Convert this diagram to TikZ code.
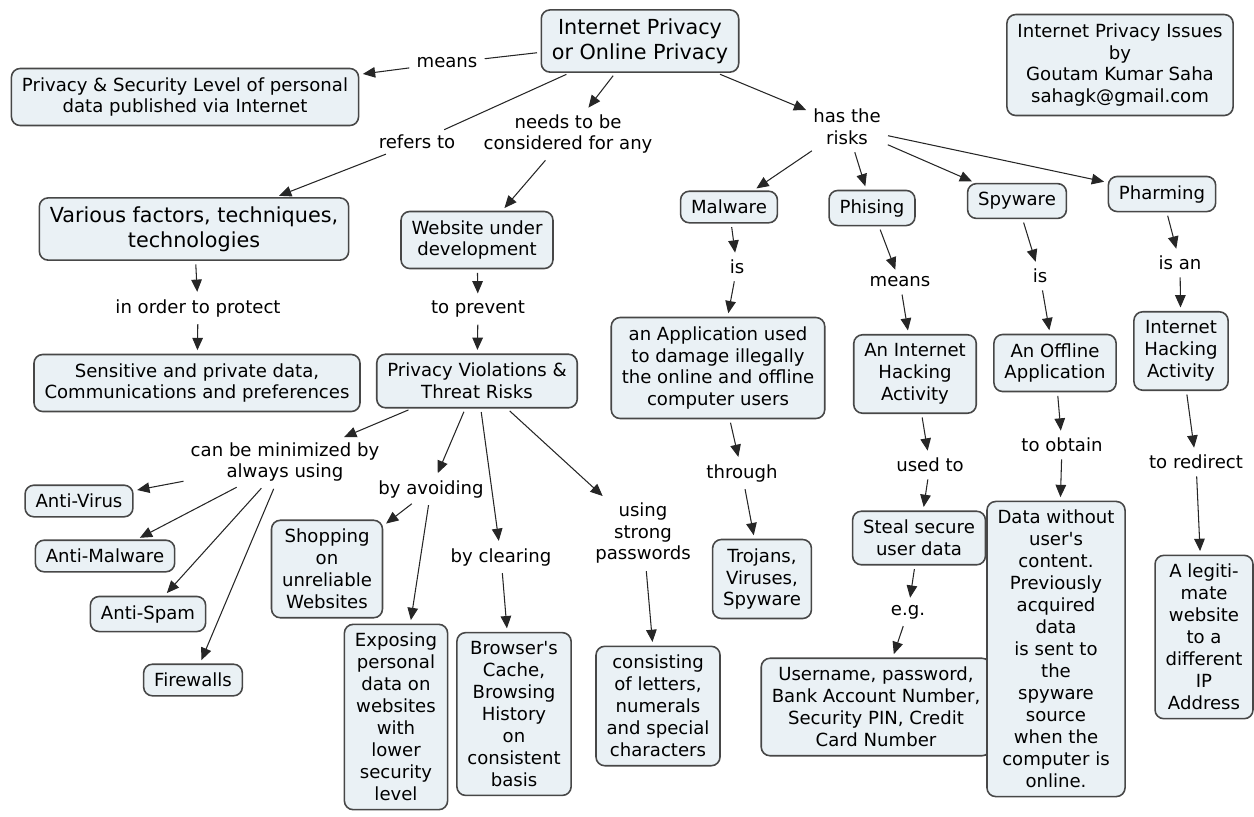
\documentclass[tikz,border=0pt]{standalone}
\usepackage{fontspec}
\setmainfont{DejaVu Sans}
\usetikzlibrary{arrows.meta}
\definecolor{cfill}{HTML}{EAF1F5}
\definecolor{cline}{HTML}{474747}
\tikzset{
  concept/.style={draw=cline, fill=cfill, rounded corners=5pt, line width=0.9pt,
    align=center, inner xsep=6pt, inner ysep=5pt, font=\fontsize{10.3}{12.5}\selectfont},
  bigconcept/.style={concept, font=\fontsize{11.8}{14}\selectfont},
  phrase/.style={align=center, inner sep=2pt, font=\fontsize{10.3}{12.5}\selectfont},
  link/.style={draw=black!85, line width=0.6pt, -{Triangle[length=7pt,width=6pt]},
    shorten >=2pt, shorten <=2pt},
  nohead/.style={link, -}
}
\begin{document}
\begin{tikzpicture}[x=0.02cm,y=-0.02cm]
\useasboundingbox (0,0) rectangle (1254,816);

% concepts
\node[bigconcept] (root) at (640,41) {Internet Privacy\\or Online Privacy};
\node[concept] (title) at (1120,65) {Internet Privacy Issues\\by\\Goutam Kumar Saha\\sahagk@gmail.com};
\node[concept] (privacy) at (185,97) {Privacy \& Security Level of personal\\data published via Internet};
\node[bigconcept] (factors) at (194,229) {Various factors, techniques,\\technologies};
\node[concept] (website) at (477,240) {Website under\\development};
\node[concept] (malware) at (729,207) {Malware};
\node[concept] (phising) at (872,208) {Phising};
\node[concept] (spyware) at (1017,201) {Spyware};
\node[concept] (pharming) at (1162,194) {Pharming};
\node[concept] (sensitive) at (197,383) {Sensitive and private data,\\Communications and preferences};
\node[concept] (violations) at (477,381) {Privacy Violations \&\\Threat Risks};
\node[concept] (application) at (718,368) {an Application used\\to damage illegally\\the online and offline\\computer users};
\node[concept] (hacking) at (915,374) {An Internet\\Hacking\\Activity};
\node[concept] (offline) at (1055,363) {An Offline\\Application};
\node[concept] (pharmhack) at (1181,351) {Internet\\Hacking\\Activity};
\node[concept] (antivirus) at (79,501) {Anti-Virus};
\node[concept] (antimalware) at (105,556) {Anti-Malware};
\node[concept] (antispam) at (148,614) {Anti-Spam};
\node[concept] (firewalls) at (193,680) {Firewalls};
\node[concept] (shopping) at (327,569) {Shopping\\on\\unreliable\\Websites};
\node[concept] (exposing) at (396,717) {Exposing\\personal\\data on\\websites\\with\\lower\\security\\level};
\node[concept] (browser) at (514,714) {Browser\textquotesingle s\\Cache,\\Browsing\\History\\on\\consistent\\basis};
\node[concept] (consisting) at (658,706) {consisting\\of letters,\\numerals\\and special\\characters};
\node[concept] (trojans) at (762,579) {Trojans,\\Viruses,\\Spyware};
\node[concept] (steal) at (919,538) {Steal secure\\user data};
\node[concept] (username) at (876,707) {Username, password,\\Bank Account Number,\\Security PIN, Credit\\Card Number};
\node[concept] (obtained) at (1056,649) {Data without\\user\textquotesingle s\\content.\\Previously\\acquired\\data\\is sent to\\the\\spyware\\source\\when the\\computer is\\online.};
\node[concept] (legit) at (1204,637) {A legiti-\\mate\\website\\to a\\different\\IP\\Address};

% linking phrases
\node[phrase] (means) at (447,63) {means};
\node[phrase] (refers) at (417,142) {refers to};
\node[phrase] (needs) at (568,134) {needs to be\\considered for any};
\node[phrase] (risks) at (847,127) {has the\\risks};
\node[phrase] (protect) at (198,308) {in order to protect};
\node[phrase] (prevent) at (478,309) {to prevent};
\node[phrase] (mal-is) at (737,267) {is};
\node[phrase] (phis-means) at (900,282) {means};
\node[phrase] (spy-is) at (1040,276) {is};
\node[phrase] (pharm-is) at (1180,263) {is an};
\node[phrase] (minimized) at (285,462) {can be minimized by\\always using};
\node[phrase] (avoiding) at (431,489) {by avoiding};
\node[phrase] (clearing) at (501,557) {by clearing};
\node[phrase] (strong) at (643,533) {using\\strong\\passwords};
\node[phrase] (through) at (742,473) {through};
\node[phrase] (usedto) at (930,465) {used to};
\node[phrase] (obtain) at (1062,445) {to obtain};
\node[phrase] (redirect) at (1196,462) {to redirect};
\node[phrase] (eg) at (908,612) {e.g.};

% links
\draw[nohead] (root) -- (means);
\draw[link] (means) -- (privacy);
\draw[nohead] (root) -- (refers);
\draw[link] (refers) -- (factors);
\draw[link] (root) -- (needs);
\draw[link] (needs) -- (website);
\draw[link] (root) -- (risks);
\foreach \risk in {malware,phising,spyware,pharming}
  \draw[link] (risks) -- (\risk);
\draw[link] (factors) -- (protect);
\draw[link] (protect) -- (sensitive);
\draw[link] (website) -- (prevent);
\draw[link] (prevent) -- (violations);
\draw[link] (violations) -- (minimized);
\foreach \tool in {antivirus,antimalware,antispam,firewalls}
  \draw[link] (minimized) -- (\tool);
\draw[link] (violations) -- (avoiding);
\draw[link] (avoiding) -- (shopping);
\draw[link] (avoiding) -- (exposing);
\draw[link] (violations) -- (clearing);
\draw[link] (clearing) -- (browser);
\draw[link] (violations) -- (strong);
\draw[link] (strong) -- (consisting);
\draw[link] (malware) -- (mal-is);
\draw[link] (mal-is) -- (application);
\draw[link] (application) -- (through);
\draw[link] (through) -- (trojans);
\draw[link] (phising) -- (phis-means);
\draw[link] (phis-means) -- (hacking);
\draw[link] (hacking) -- (usedto);
\draw[link] (usedto) -- (steal);
\draw[link] (steal) -- (eg);
\draw[link] (eg) -- (username);
\draw[link] (spyware) -- (spy-is);
\draw[link] (spy-is) -- (offline);
\draw[link] (offline) -- (obtain);
\draw[link] (obtain) -- (obtained);
\draw[link] (pharming) -- (pharm-is);
\draw[link] (pharm-is) -- (pharmhack);
\draw[link] (pharmhack) -- (redirect);
\draw[link] (redirect) -- (legit);
\end{tikzpicture}
\end{document}
